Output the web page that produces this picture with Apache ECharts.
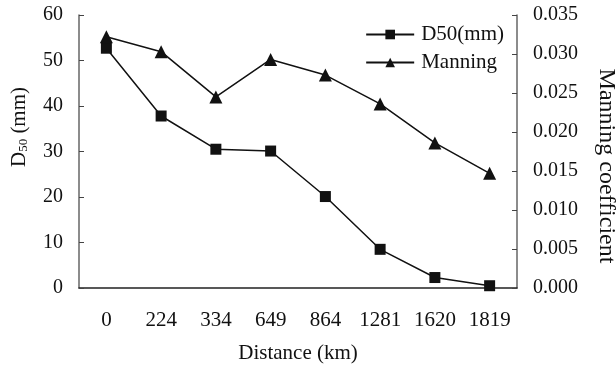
<!DOCTYPE html>
<html><head><meta charset="utf-8">
<script src="https://cdn.jsdelivr.net/npm/echarts@6/dist/echarts.min.js"></script>
<style>html,body{margin:0;padding:0;background:#fff}#c{width:616px;height:365px}</style>
</head><body><div id="c"></div>
<script>
const categories = ['0','224','334','649','864','1281','1620','1819'];
const d50 = [52.7, 37.8, 30.5, 30.1, 20.1, 8.5, 2.3, 0.5];
const manning = [0.0322, 0.0303, 0.0245, 0.0293, 0.0273, 0.0236, 0.0186, 0.0147];
const rightName = 'Manning coefficient';
const xName = 'Distance (km)';
const font = 'Liberation Serif';
const chart = echarts.init(document.getElementById('c'));
chart.setOption({
  animation: false,
  textStyle: {fontFamily: font, color: '#111'},
  grid: {left: 79, right: 99, top: 15, bottom: 77, containLabel: false, outerBoundsMode: 'none'},
  legend: {
    right: 107, top: 19, orient: 'vertical', itemGap: 7,
    itemWidth: 48, itemHeight: 12,
    textStyle: {fontFamily: font, fontSize: 21, color: '#111', padding: [0,0,0,2]},
    data: ['D50(mm)', 'Manning']
  },
  graphic: [{
    type: 'text', x: 19, y: 127, rotation: Math.PI / 2,
    style: {
      text: '{a|D}{b|50}{a| (mm)}', align: 'center', verticalAlign: 'middle',
      rich: {a: {fontFamily: font, fontSize: 21, fill: '#111'},
             b: {fontFamily: font, fontSize: 13, fill: '#111', padding: [10,0,0,0]}}
    }
  }, {
    type: 'text', x: 606, y: 166, rotation: -Math.PI / 2,
    style: {text: rightName, align: 'center', verticalAlign: 'middle',
      fontFamily: font, fontSize: 24, fill: '#111'}
  }],
  xAxis: {
    type: 'category', data: categories, boundaryGap: true,
    name: xName, nameLocation: 'middle', nameGap: 55,
    nameTextStyle: {fontFamily: font, fontSize: 21, color: '#111'},
    axisLine: {lineStyle: {color: '#222', width: 1.5}},
    axisTick: {inside: true, length: 5, lineStyle: {color: '#444'}},
    axisLabel: {fontFamily: font, fontSize: 21, color: '#111', margin: 22}
  },
  yAxis: [{
    type: 'value', min: 0, max: 60, interval: 10,
    axisLine: {show: true, lineStyle: {color: '#666', width: 1.5}},
    axisTick: {show: true, inside: true, length: 5, lineStyle: {color: '#444'}},
    axisLabel: {fontFamily: font, fontSize: 20, color: '#111', margin: 16},
    splitLine: {show: false}
  }, {
    type: 'value', min: 0, max: 0.035, interval: 0.005,
    axisLine: {show: true, lineStyle: {color: '#666', width: 1.5}},
    axisTick: {show: true, inside: true, length: 5, lineStyle: {color: '#444'}},
    axisLabel: {fontFamily: font, fontSize: 20, color: '#111', margin: 16,
      formatter: v => v.toFixed(3)},
    splitLine: {show: false}
  }],
  series: [{
    name: 'D50(mm)', type: 'line', data: d50, yAxisIndex: 0,
    symbol: 'rect', symbolSize: 11,
    lineStyle: {color: '#111', width: 1.5}, itemStyle: {color: '#111'}
  }, {
    name: 'Manning', type: 'line', data: manning, yAxisIndex: 1,
    symbol: 'triangle', symbolSize: 13,
    lineStyle: {color: '#111', width: 1.5}, itemStyle: {color: '#111'}
  }]
});
</script></body></html>
